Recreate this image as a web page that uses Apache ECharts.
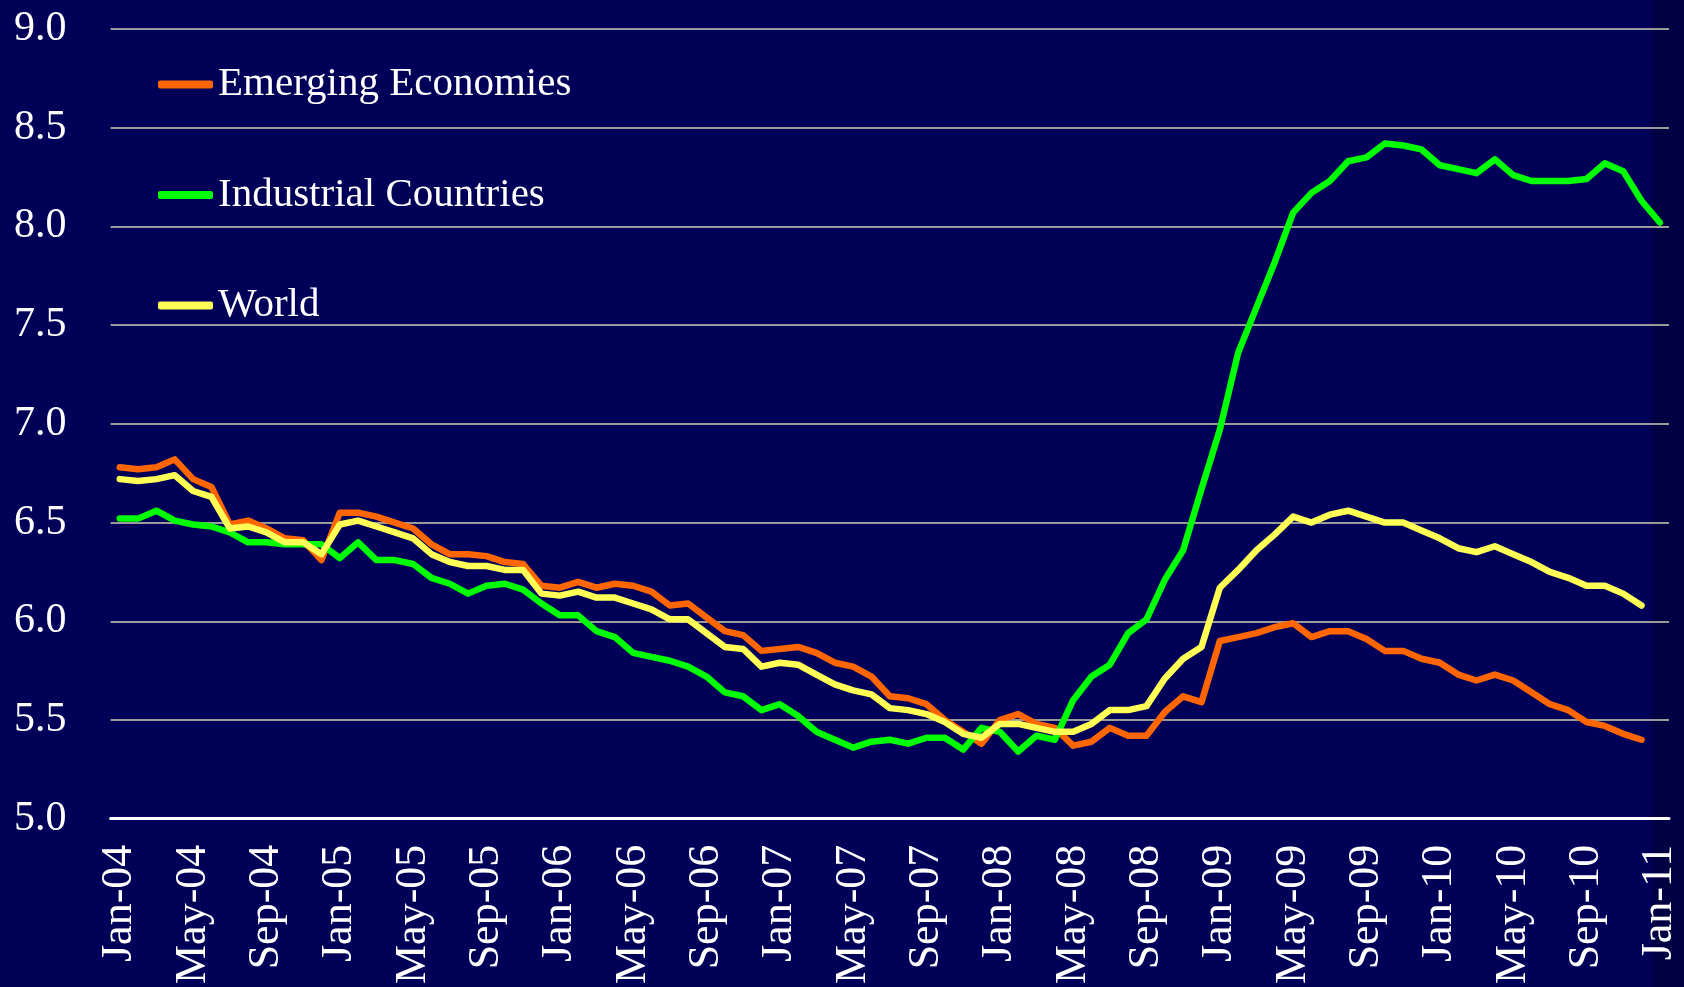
<!DOCTYPE html>
<html>
<head>
    <meta charset="utf-8">
    <title>Emerging vs Industrial</title>
    <script src="https://cdn.jsdelivr.net/npm/echarts/dist/echarts.min.js"></script>
    <style>
        html, body {
            margin: 0;
            padding: 0;
            background: #000058;
        }
        #main {
            width: 1684px;
            height: 987px;
        }
    </style>
</head>
<body>
<div id="main"></div>
<script>
    // monthly, Jan-04 .. Jan-11
    var monthNames = ['Jan', 'Feb', 'Mar', 'Apr', 'May', 'Jun', 'Jul', 'Aug', 'Sep', 'Oct', 'Nov', 'Dec'];
    var years = ['04', '05', '06', '07', '08', '09', '10', '11'];

    var emerging = [
        6.78, 6.77, 6.78, 6.82, 6.72, 6.68, 6.49, 6.51, 6.47, 6.42, 6.41, 6.31,
        6.55, 6.55, 6.53, 6.50, 6.47, 6.39, 6.34, 6.34, 6.33, 6.30, 6.29, 6.18,
        6.17, 6.20, 6.17, 6.19, 6.18, 6.15, 6.08, 6.09, 6.02, 5.95, 5.93, 5.85,
        5.86, 5.87, 5.84, 5.79, 5.77, 5.72, 5.62, 5.61, 5.58, 5.50, 5.44, 5.38,
        5.50, 5.53, 5.48, 5.46, 5.37, 5.39, 5.46, 5.42, 5.42, 5.54, 5.62, 5.59,
        5.90, 5.92, 5.94, 5.97, 5.99, 5.92, 5.95, 5.95, 5.91, 5.85, 5.85, 5.81,
        5.79, 5.73, 5.70, 5.73, 5.70, 5.64, 5.58, 5.55, 5.49, 5.47, 5.43, 5.40,
        null
    ];
    var industrial = [
        6.52, 6.52, 6.56, 6.51, 6.49, 6.48, 6.45, 6.40, 6.40, 6.39, 6.39, 6.39,
        6.32, 6.40, 6.31, 6.31, 6.29, 6.22, 6.19, 6.14, 6.18, 6.19, 6.16, 6.09,
        6.03, 6.03, 5.95, 5.92, 5.84, 5.82, 5.80, 5.77, 5.72, 5.64, 5.62, 5.55,
        5.58, 5.52, 5.44, 5.40, 5.36, 5.39, 5.40, 5.38, 5.41, 5.41, 5.35, 5.46,
        5.44, 5.34, 5.42, 5.40, 5.60, 5.72, 5.78, 5.94, 6.01, 6.21, 6.36, 6.67,
        6.97, 7.36, 7.59, 7.82, 8.07, 8.17, 8.23, 8.33, 8.35, 8.42, 8.41, 8.39,
        8.31, 8.29, 8.27, 8.34, 8.26, 8.23, 8.23, 8.23, 8.24, 8.32, 8.28, 8.13,
        8.02
    ];
    var world = [
        6.72, 6.71, 6.72, 6.74, 6.66, 6.63, 6.47, 6.48, 6.45, 6.40, 6.40, 6.34,
        6.49, 6.51, 6.48, 6.45, 6.42, 6.34, 6.30, 6.28, 6.28, 6.26, 6.26, 6.14,
        6.13, 6.15, 6.12, 6.12, 6.09, 6.06, 6.01, 6.01, 5.94, 5.87, 5.86, 5.77,
        5.79, 5.78, 5.73, 5.68, 5.65, 5.63, 5.56, 5.55, 5.53, 5.49, 5.43, 5.41,
        5.48, 5.48, 5.46, 5.44, 5.44, 5.48, 5.55, 5.55, 5.57, 5.71, 5.81, 5.87,
        6.17, 6.26, 6.36, 6.44, 6.53, 6.50, 6.54, 6.56, 6.53, 6.50, 6.50, 6.46,
        6.42, 6.37, 6.35, 6.38, 6.34, 6.30, 6.25, 6.22, 6.18, 6.18, 6.14, 6.08,
        null
    ];

    var months = [];
    for (var y = 0; y < years.length; y++) {
        for (var m = 0; m < 12; m++) {
            months.push(monthNames[m] + '-' + years[y]);
            if (y == years.length - 1) break; // stop at Jan-11
        }
    }

    var serif = '"Liberation Serif", "DejaVu Serif", serif';
    var myChart = echarts.init(document.getElementById('main'));
    option = {
        backgroundColor: '#000058',
        textStyle: {
            fontFamily: serif
        },
        graphic: [
            {
                type: 'rect',
                z: -10,
                shape: {x: 1652, y: 0, width: 32, height: 987},
                style: {fill: '#000042'}
            }
        ],
        grid: {
            left: 110.6,
            right: 15,
            top: 29,
            bottom: 166.5
        },
        legend: {
            orient: 'vertical',
            left: 153,
            top: 57.5,
            itemGap: 66.5,
            itemWidth: 55,
            itemHeight: 8,
            icon: 'roundRect',
            selectedMode: false,
            textStyle: {
                color: '#ffffff',
                fontSize: 41,
                lineHeight: 44,
                fontFamily: serif
            },
            data: ['Emerging Economies', 'Industrial Countries', 'World']
        },
        xAxis: {
            type: 'category',
            data: months,
            boundaryGap: true,
            axisLine: {
                lineStyle: {color: '#ffffff', width: 3}
            },
            axisTick: {
                interval: 3,
                length: 14,
                lineStyle: {color: '#ffffff', width: 2}
            },
            axisLabel: {
                interval: 3,
                rotate: 90,
                margin: 26,
                color: '#ffffff',
                fontSize: 44,
                fontFamily: serif
            },
            splitLine: {show: false}
        },
        yAxis: {
            type: 'value',
            min: 5,
            max: 9,
            interval: 0.5,
            axisLine: {show: false},
            axisTick: {show: false},
            axisLabel: {
                margin: 44,
                color: '#ffffff',
                fontSize: 42,
                fontFamily: serif,
                formatter: function (v) {
                    return v.toFixed(1);
                }
            },
            splitLine: {
                lineStyle: {color: '#9a9a9a', width: 2}
            }
        },
        series: [
            {
                name: 'Emerging Economies',
                type: 'line',
                data: emerging,
                symbol: 'none',
                color: '#ff6600',
                lineStyle: {width: 6.5, cap: 'round', join: 'round'}
            },
            {
                name: 'Industrial Countries',
                type: 'line',
                data: industrial,
                symbol: 'none',
                color: '#00ff00',
                lineStyle: {width: 6.5, cap: 'round', join: 'round'}
            },
            {
                name: 'World',
                type: 'line',
                data: world,
                symbol: 'none',
                color: '#ffff55',
                lineStyle: {width: 6.5, cap: 'round', join: 'round'}
            }
        ]
    };

    myChart.setOption(option);
</script>
</body>
</html>
